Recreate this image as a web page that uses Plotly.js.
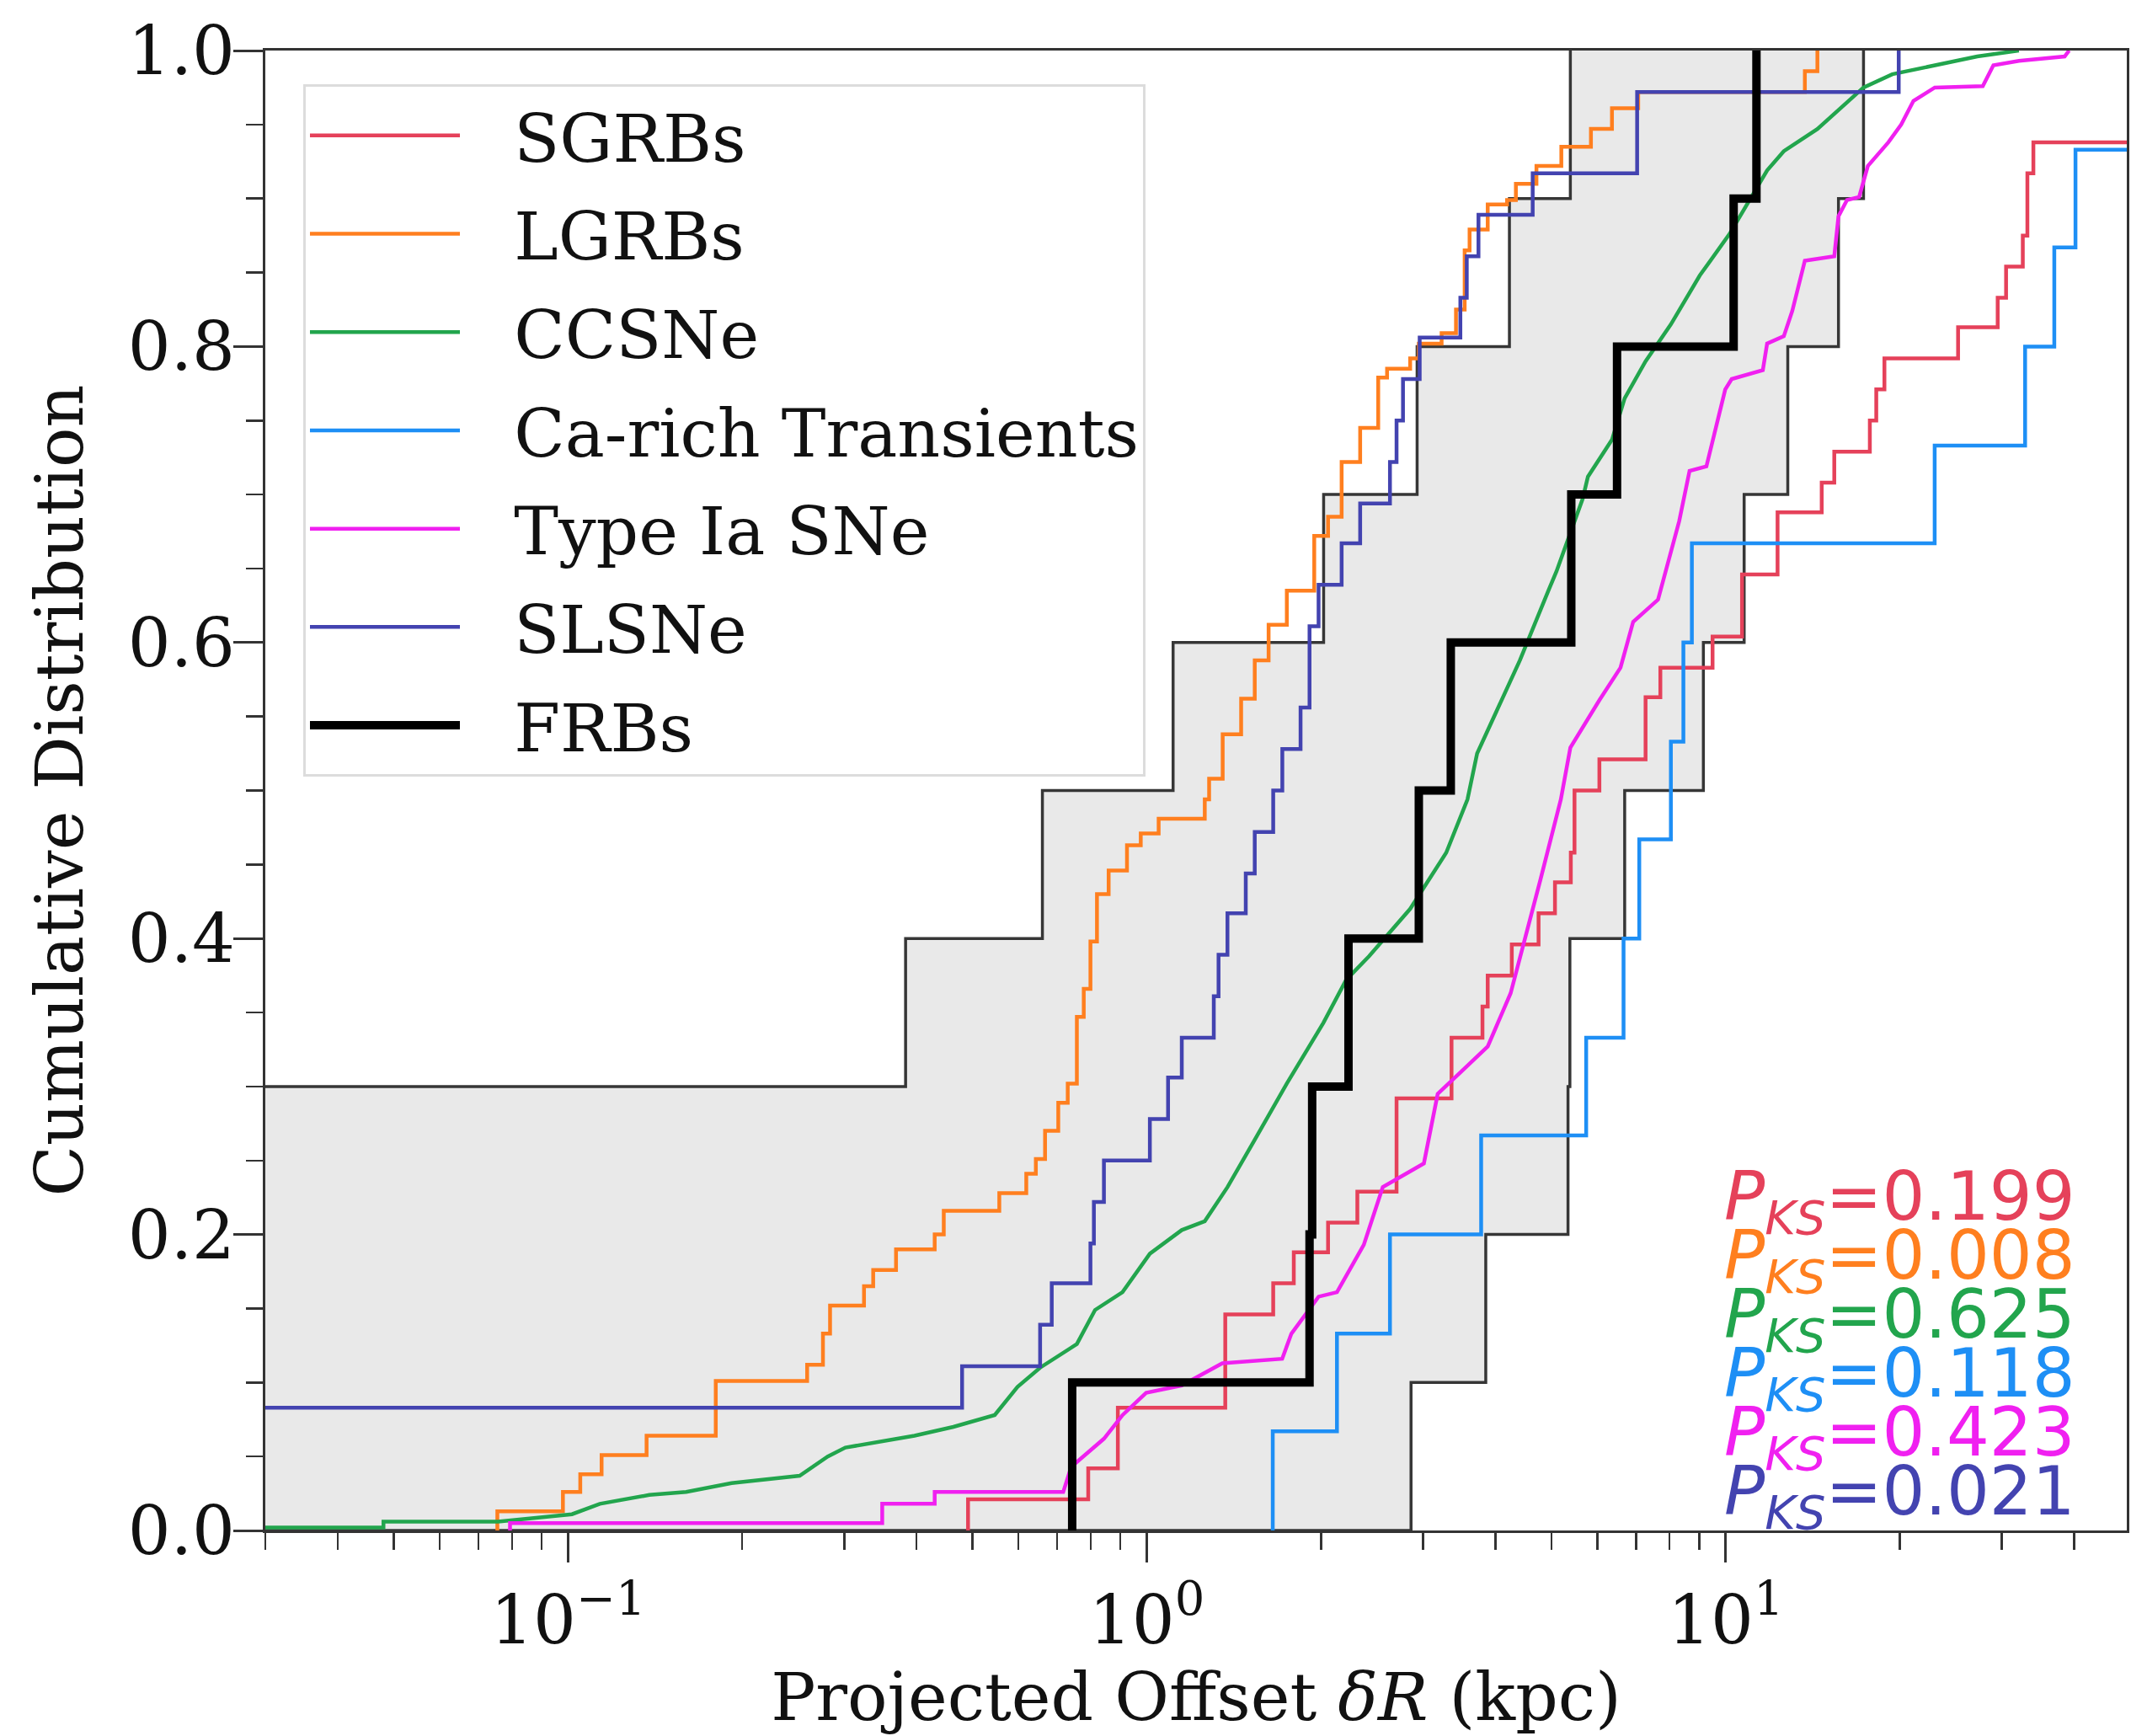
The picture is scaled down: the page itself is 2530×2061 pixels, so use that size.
<!DOCTYPE html>
<html><head><meta charset="utf-8">
<script src="https://cdn.plot.ly/plotly-3.0.1.min.js"></script>
<style>html,body{margin:0;padding:0;background:#fff;}#chart{width:2530px;height:2061px;}</style>
</head><body><div id="chart"></div>
<script>
// ---------------- data ----------------
const seriesNames  = ['SGRBs','LGRBs','CCSNe','Ca-rich Transients','Type Ia SNe','SLSNe','FRBs'];
const seriesColors = ['#e5415a','#ff7f1f','#22a54d','#1e8ff5','#f020f0','#4343b0','#000000'];
const ksValues     = ['0.199','0.008','0.625','0.118','0.423','0.021'];

// step CDFs: offset (kpc) where each step occurs, CDF level after the step
const sgrbX = [0.491,0.792,0.891,1.366,1.653,1.794,2.056,2.31,2.70,3.36,3.80,3.88,4.27,4.75,5.07,5.40,5.48,6.05,7.27,7.71,9.49,10.67,12.29,14.65,15.4,17.74,18.2,18.8,25.2,29.5,30.5,32.6,33.2,34.0];
const sgrbY = [0.021,0.042,0.083,0.146,0.167,0.188,0.208,0.229,0.292,0.333,0.354,0.375,0.396,0.417,0.438,0.458,0.500,0.521,0.563,0.583,0.604,0.646,0.688,0.708,0.729,0.750,0.771,0.792,0.813,0.833,0.854,0.875,0.917,0.938];

const lgrbX = [0.0755,0.098,0.105,0.1143,0.1367,0.18,0.2589,0.2757,0.2836,0.3246,0.3367,0.3687,0.43,0.4458,0.556,0.619,0.643,0.667,0.703,0.73,0.757,0.778,0.799,0.82,0.859,0.924,0.976,1.048,1.259,1.281,1.352,1.455,1.536,1.623,1.745,1.946,2.056,2.17,2.336,2.51,2.6,2.85,2.95,3.23,3.42,3.54,3.61,3.88,4.19,4.34,4.71,5.2,5.85,6.36,7.06,13.7,14.4];
const lgrbY = [0.013,0.026,0.038,0.051,0.064,0.101,0.112,0.133,0.152,0.165,0.176,0.190,0.200,0.216,0.228,0.241,0.251,0.270,0.289,0.302,0.347,0.366,0.398,0.430,0.446,0.463,0.471,0.481,0.494,0.508,0.538,0.562,0.588,0.612,0.635,0.672,0.685,0.722,0.745,0.779,0.785,0.792,0.802,0.809,0.825,0.865,0.879,0.896,0.899,0.910,0.922,0.935,0.947,0.961,0.972,0.986,1.0];

const caX = [1.65,2.13,2.63,3.78,5.74,6.66,7.09,8.04,8.45,8.74,22.96,32.9,36.95,40.2];
const caY = [0.067,0.133,0.200,0.267,0.333,0.400,0.467,0.533,0.600,0.667,0.733,0.800,0.867,0.933];

const slsneStart = 0.083;
const slsneX = [0.4795,0.654,0.685,0.799,0.81,0.843,1.012,1.088,1.149,1.305,1.33,1.378,1.482,1.536,1.653,1.714,1.843,1.91,1.98,2.17,2.336,2.63,2.70,2.77,2.96,3.48,3.57,3.74,4.64,7.03,19.9];
const slsneY = [0.111,0.139,0.167,0.194,0.222,0.250,0.278,0.306,0.333,0.361,0.389,0.417,0.444,0.472,0.500,0.528,0.556,0.611,0.639,0.667,0.694,0.722,0.750,0.778,0.806,0.833,0.861,0.889,0.917,0.972,1.0];

const frbX = [0.743,1.91,1.93,2.23,2.95,3.35,5.41,6.49,10.32,11.3];
const frbY = [0.1,0.2,0.3,0.4,0.5,0.6,0.7,0.8,0.9,1.0];

// FRB uncertainty envelope
const envHiStart = 0.3;
const envHiX = [0.383,0.66,1.11,2.02,2.93,4.23,5.39];
const envHiY = [0.4,0.5,0.6,0.7,0.8,0.9,1.0];
const envLoX = [2.86,3.85,5.34,5.38,6.69,9.15,10.76,12.8,15.66,17.3];
const envLoY = [0.1,0.2,0.3,0.4,0.5,0.6,0.7,0.8,0.9,1.0];

// densely sampled CDFs read as polylines
const ccX = [0.03,0.048,0.048,0.0757,0.1016,0.1135,0.1382,0.16,0.1917,0.2513,0.281,0.3014,0.3968,0.4632,0.546,0.5977,0.654,0.757,0.8138,0.9075,1.012,1.149,1.259,1.378,1.536,1.745,2.018,2.209,2.42,2.85,3.29,3.58,3.72,4.41,4.95,5.10,5.66,5.78,6.36,6.69,7.27,8.04,9.02,10.15,11.79,12.6,14.4,15.93,17.3,19.4,22.97,27.2,32.1];
const ccY = [0.002,0.002,0.006,0.006,0.011,0.018,0.024,0.026,0.032,0.037,0.050,0.056,0.064,0.070,0.078,0.097,0.110,0.126,0.149,0.161,0.187,0.203,0.209,0.232,0.264,0.302,0.343,0.372,0.388,0.420,0.458,0.494,0.525,0.588,0.636,0.648,0.697,0.712,0.737,0.765,0.790,0.815,0.848,0.876,0.919,0.932,0.947,0.962,0.975,0.984,0.990,0.996,1.0];

const iaX = [0.0794,0.0794,0.349,0.349,0.43,0.43,0.717,0.74,0.843,0.908,0.997,1.149,1.35,1.713,1.777,1.98,2.13,2.37,2.556,3.01,3.18,3.88,4.25,4.49,4.78,5.19,5.39,6.05,6.58,6.92,7.64,8.31,8.66,9.26,9.57,9.98,10.24,11.59,11.79,12.6,13.03,13.7,15.4,15.66,16.2,17.0,17.6,19.1,20.1,21.1,22.97,27.8,29.0,32.1,38.5,39.2];
const iaY = [0,0.005,0.005,0.018,0.018,0.026,0.026,0.043,0.062,0.078,0.093,0.098,0.113,0.116,0.133,0.158,0.161,0.193,0.232,0.248,0.295,0.327,0.363,0.398,0.439,0.494,0.529,0.561,0.583,0.614,0.629,0.682,0.716,0.719,0.743,0.771,0.778,0.784,0.802,0.807,0.824,0.858,0.861,0.888,0.899,0.901,0.922,0.938,0.950,0.966,0.975,0.976,0.990,0.993,0.996,1.0];

// axis ticks
const xTickVals = [0.1, 1, 10];
const xTickText = ['10<sup>\u22121</sup>', '10<sup>0</sup>', '10<sup>1</sup>'];
const xMinorMantissas = [2,3,4,5,6,7,8,9];
const xMinorDecades = [0.01, 0.1, 1, 10];
const xRange = [0.03, 49.3];
const yTickVals = [0, 0.2, 0.4, 0.6, 0.8, 1.0];

// ---------------- build ----------------
const X_LEFT = 0.02, X_RIGHT = 80; // extend lines past the clipped axis edges
function stepXY(xs, ys, y0, xStart, xEnd) {
  const x = [xStart].concat(xs), y = [y0].concat(ys);
  if (xEnd !== null) { x.push(xEnd); y.push(ys[ys.length - 1]); }
  return {x, y};
}
const serif = 'DejaVu Serif';
const traces = [];
const envLo = stepXY(envLoX, envLoY, 0, X_LEFT, null);
const envHi = stepXY(envHiX, envHiY, envHiStart, X_LEFT, null);
traces.push({x: envLo.x, y: envLo.y, mode: 'lines', line: {shape: 'hv', color: '#363636', width: 3.5}, showlegend: false, hoverinfo: 'skip'});
traces.push({x: envHi.x, y: envHi.y, mode: 'lines', line: {shape: 'hv', color: '#363636', width: 3.5}, fill: 'tonexty', fillcolor: '#e9e9e9', showlegend: false, hoverinfo: 'skip'});

const sg = stepXY(sgrbX, sgrbY, 0, sgrbX[0], X_RIGHT);
const lg = stepXY(lgrbX, lgrbY, 0, lgrbX[0], null);
const ca = stepXY(caX, caY, 0, caX[0], X_RIGHT);
const sl = stepXY(slsneX, slsneY, slsneStart, X_LEFT, null);
const fr = stepXY(frbX, frbY, 0, frbX[0], null);
const ccFull = {x: [X_LEFT].concat(ccX), y: [ccY[0]].concat(ccY)};

const lineW = 4.5;
const defs = [
  {d: sg, shape: 'hv'}, {d: lg, shape: 'hv'}, {d: ccFull, shape: 'linear'},
  {d: ca, shape: 'hv'}, {d: {x: iaX, y: iaY}, shape: 'linear'}, {d: sl, shape: 'hv'}, {d: fr, shape: 'hv'}
];
const legendPad = '\u2002\u2005'; // gap between legend line sample and its label
defs.forEach((o, i) => {
  traces.push({
    x: o.d.x, y: o.d.y, mode: 'lines', name: legendPad + seriesNames[i], legendgroup: 'g' + i,
    line: {shape: o.shape, color: seriesColors[i], width: i === 6 ? 10 : lineW},
    hoverinfo: 'skip'
  });
});

const minorVals = [];
xMinorDecades.forEach(d => xMinorMantissas.forEach(m => { const v = m * d; if (v >= xRange[0] - 1e-9 && v <= xRange[1]) minorVals.push(v); }));

const ML = 315, MR = 5, MT = 60, MB = 244, W = 2530, H = 2061;
const plotW = W - ML - MR, plotH = H - MT - MB;
const annotations = ksValues.map((v, i) => ({
  xref: 'paper', yref: 'paper', x: (2466 - ML) / plotW,
  y: (MT + plotH - (1426 + 70 * i)) / plotH,
  xanchor: 'right', yanchor: 'middle', showarrow: false,
  text: '<i>P</i><sub><i>KS</i></sub>=' + v,
  font: {family: 'DejaVu Sans', size: 80, color: seriesColors[i]}
}));

const axisCommon = {
  showline: true, mirror: true, linecolor: '#333', linewidth: 3,
  ticks: 'outside', tickwidth: 3, tickcolor: '#333', ticklen: 35,
  showgrid: false, zeroline: false,
  tickfont: {family: serif, size: 80, color: '#111'}
};
const layout = {
  width: W, height: H, margin: {l: ML, r: MR, t: MT, b: MB},
  paper_bgcolor: '#fff', plot_bgcolor: '#fff',
  font: {family: serif, color: '#111'},
  showlegend: true,
  legend: {
    x: (360 - ML) / plotW, y: (MT + plotH - 100) / plotH, xanchor: 'left', yanchor: 'top',
    bgcolor: 'rgba(255,255,255,0.85)', bordercolor: '#dcdcdc', borderwidth: 3,
    font: {family: serif, size: 79, color: '#111'},
    tracegroupgap: 11, itemwidth: 178, traceorder: 'grouped'
  },
  xaxis: Object.assign({}, axisCommon, {
    type: 'log', range: [Math.log10(xRange[0]), Math.log10(xRange[1])],
    tickmode: 'array', tickvals: xTickVals, ticktext: xTickText,
    minor: {tickmode: 'array', tickvals: minorVals, ticks: 'outside', ticklen: 20, tickwidth: 2.5, tickcolor: '#333'},
    title: {text: 'Projected Offset <i>\u03b4R</i> (kpc)', font: {family: serif, size: 79, color: '#111'}, standoff: 10}
  }),
  yaxis: Object.assign({}, axisCommon, {
    range: [0, 1], tickmode: 'array', tickvals: yTickVals, tickformat: '.1f',
    ticklabelstandoff: -18,
    minor: {dtick: 0.05, ticks: 'outside', ticklen: 20, tickwidth: 2.5, tickcolor: '#333'},
    title: {text: 'Cumulative Distribution', font: {family: serif, size: 79, color: '#111'}, standoff: 28}
  }),
  annotations: annotations
};
Plotly.newPlot('chart', traces, layout, {staticPlot: true});
</script></body></html>
